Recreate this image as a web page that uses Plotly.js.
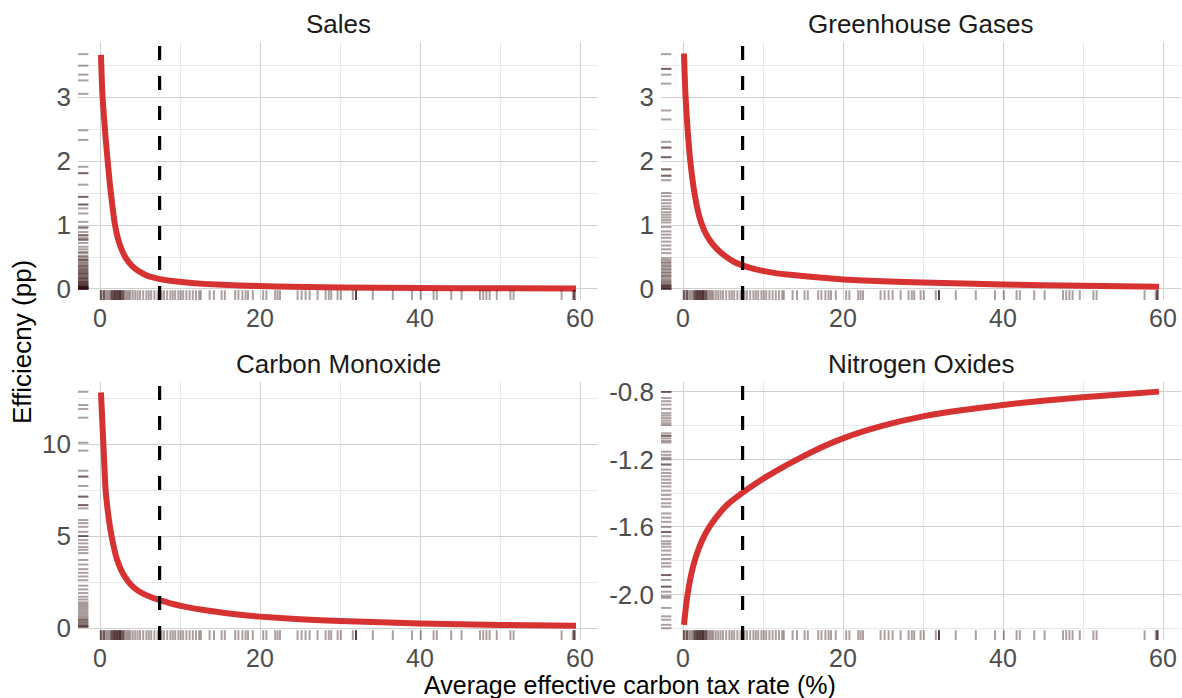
<!DOCTYPE html>
<html>
<head>
<meta charset="utf-8">
<script src="https://cdn.plot.ly/plotly-3.0.1.min.js"></script>
<style>html,body{margin:0;padding:0;background:#fff;}#chart{width:1182px;height:698px;}</style>
</head>
<body>
<div id="chart"></div>
<script>
// ---------- data ----------
const panelTitles = ["Sales", "Greenhouse Gases", "Carbon Monoxide", "Nitrogen Oxides"];
const xTitle = "Average effective carbon tax rate (%)";
const yTitle = "Efficiecny (pp)";

const xTicks = [0, 20, 40, 60];
const xTickText = ["0", "20", "40", "60"];
const xMinorTicks = [10, 30, 50];

const salesX = [0.12, 0.3, 0.6, 0.9, 1.2, 1.5, 1.8, 2.2, 2.7, 3.3, 4.0, 4.8, 5.7, 6.6, 7.5, 9, 10.5, 13, 17.5, 22, 30, 40, 50, 59.5];
const salesY = [3.66, 3.05, 2.52, 2.08, 1.68, 1.35, 1.06, 0.81, 0.62, 0.47, 0.36, 0.28, 0.22, 0.18, 0.155, 0.125, 0.105, 0.08, 0.055, 0.04, 0.025, 0.016, 0.011, 0.008];

const ghgX = [0.12, 0.3, 0.6, 1.0, 1.5, 2.0, 2.6, 3.3, 4.2, 5.2, 6.3, 7.45, 9, 11, 13, 16, 20, 25, 30, 40, 50, 59.5];
const ghgY = [3.68, 3.05, 2.45, 1.90, 1.45, 1.15, 0.93, 0.77, 0.63, 0.52, 0.43, 0.37, 0.31, 0.26, 0.225, 0.19, 0.15, 0.12, 0.10, 0.07, 0.05, 0.035];

const coX = [0.12, 0.42, 0.71, 1.12, 1.46, 2.08, 2.6, 3.1, 3.8, 4.6, 5.5, 6.5, 7.5, 9, 10.4, 13, 17.5, 20, 25, 30, 40, 50, 59.5];
const coY = [12.8, 10.0, 7.45, 5.87, 4.96, 3.79, 3.2, 2.79, 2.38, 2.07, 1.84, 1.66, 1.52, 1.32, 1.18, 0.98, 0.72, 0.62, 0.48, 0.38, 0.25, 0.17, 0.12];

const noxX = [0.12, 0.3, 0.54, 0.9, 1.29, 1.8, 2.54, 3.3, 4.2, 5.5, 7.45, 9, 10.5, 12.5, 14.6, 17, 20, 25, 30, 35, 40, 45, 50, 55, 59.5];
const noxY = [-2.18, -2.10, -2.01, -1.91, -1.83, -1.75, -1.665, -1.60, -1.54, -1.47, -1.397, -1.345, -1.30, -1.245, -1.192, -1.135, -1.075, -1.0, -0.945, -0.907, -0.877, -0.852, -0.832, -0.813, -0.798];

// average tax rate (dashed reference line)
const avgTaxRate = 7.45;

// observed tax rates (rug along x)
const rugX = [0.1,0.1,0.3,0.5,0.5,0.7,0.9,1.1,1.3,1.4,1.5,1.6,1.7,1.8,1.8,1.9,2.0,2.1,2.2,2.2,2.3,2.4,2.5,2.5,2.6,2.7,2.8,2.9,3.0,3.2,3.4,3.6,3.8,4.1,4.4,4.7,5.0,5.4,5.8,6.1,6.4,6.8,7.2,7.7,8.0,8.4,8.8,9.1,9.4,9.8,10.1,10.4,10.8,11.2,11.6,12.0,12.4,12.6,
  13.7,14.25,15.2,15.6,16.9,17.3,17.8,18.2,18.5,19.1,20.4,20.8,21.9,22.2,22.5,24.7,25.2,25.7,26.2,27.2,28.2,28.6,28.9,29.7,30.1,31.6,32.0,32.0,32.0,34.1,36.6,39.0,40.1,41.7,42.1,43.9,45.2,47.5,47.9,48.3,48.7,49.6,51.3,51.7,57.7,59.1,59.3,59.3,59.3];

// efficiency values (rug along y), per panel
const rugYSales = [3.67,3.49,3.35,3.26,3.05,2.48,2.33,1.91,1.81,1.81,1.63,1.44,1.44,1.32,1.32,1.26,1.18,1.05,0.97,0.95,0.89,0.84,0.84,0.80,0.77,0.77,0.72,0.66,0.62,0.58,0.56,0.52,0.50,0.47,0.45,0.45,0.42,0.40,0.38,0.36,0.35,0.33,0.31,0.30,0.28,0.27,0.25,0.24,0.23,0.21,0.20,0.18,0.17,0.16,0.15,0.13,0.12,0.11,0.10,0.09,0.08,0.07,0.06,0.05,0.04,0.04,0.03,0.03,0.02,0.02,0.01,0.01,0.0,0.0,0.0];
const rugYGhg = [3.67,3.44,3.44,3.35,3.21,2.79,2.65,2.30,2.21,2.21,2.06,2.06,1.87,1.87,1.77,1.77,1.70,1.50,1.45,1.39,1.34,1.29,1.25,1.20,1.16,1.12,1.08,1.04,0.97,0.90,0.85,0.80,0.74,0.68,0.62,0.56,0.48,0.45,0.42,0.40,0.37,0.35,0.32,0.30,0.27,0.25,0.22,0.20,0.18,0.15,0.13,0.11,0.09,0.07,0.06,0.05,0.04,0.03,0.02,0.01,0.0,0.0];
const rugYCo = [12.84,12.12,11.9,11.43,10.07,9.64,8.55,8.23,8.23,7.72,7.14,7.14,6.68,6.68,6.5,5.87,5.7,5.5,5.23,5.0,5.0,4.78,4.6,4.4,4.25,4.07,3.7,3.45,3.2,3.0,2.8,2.6,2.3,2.1,1.9,1.7,1.55,1.4,1.3,1.2,1.1,1.0,0.9,0.8,0.7,0.6,0.5,0.45,0.4,0.33,0.27,0.2,0.15,0.1,0.07,0.07];
const rugYNox = [-0.80,-0.80,-0.836,-0.855,-0.875,-0.90,-0.926,-0.94,-0.955,-0.97,-0.985,-0.996,-1.045,-1.06,-1.06,-1.075,-1.09,-1.10,-1.154,-1.173,-1.19,-1.20,-1.23,-1.23,-1.26,-1.28,-1.30,-1.32,-1.34,-1.36,-1.385,-1.41,-1.435,-1.46,-1.48,-1.52,-1.545,-1.57,-1.60,-1.63,-1.63,-1.655,-1.685,-1.70,-1.717,-1.74,-1.765,-1.79,-1.815,-1.835,-1.885,-1.885,-1.914,-1.954,-1.954,-1.984,-2.01,-2.02,-2.08,-2.13,-2.15,-2.18,-2.2];

// y-axis ticks per panel
const yTicksAB = [0, 1, 2, 3];
const yTickTextAB = ["0", "1", "2", "3"];
const yMinorAB = [0.5, 1.5, 2.5, 3.5];
const yTicksC = [0, 5, 10];
const yTickTextC = ["0", "5", "10"];
const yMinorC = [2.5, 7.5, 12.5];
const yTicksD = [-2.0, -1.6, -1.2, -0.8];
const yTickTextD = ["-2.0", "-1.6", "-1.2", "-0.8"];
const yMinorD = [-2.2, -1.8, -1.4, -1.0];

// ---------- styling ----------
const W = 1182, H = 698;
const FONT = "Liberation Sans, Arial, Helvetica, sans-serif";
const RED = "#d73232";
const RUG = "rgba(40,6,6,0.38)";
const MAJOR = "#d0d0d0";
const MINOR = "#e9e9e9";

// panel boxes in pixels: [left, right, top, bottom]
const boxes = [[78, 598, 42, 300], [661, 1181, 42, 300], [78, 598, 382, 640], [661, 1181, 382, 640]];
const yRanges = [[-0.172, 3.86], [-0.172, 3.86], [-0.65, 13.37], [-2.270, -0.741]];
const xRange = [-2.75, 62.25];

const curvesX = [salesX, ghgX, coX, noxX];
const curvesY = [salesY, ghgY, coY, noxY];
const rugYs = [rugYSales, rugYGhg, rugYCo, rugYNox];
const yTickSets = [[yTicksAB, yTickTextAB, yMinorAB], [yTicksAB, yTickTextAB, yMinorAB], [yTicksC, yTickTextC, yMinorC], [yTicksD, yTickTextD, yMinorD]];

const data = [];
const layout = {
  width: W, height: H,
  margin: {l: 0, r: 0, t: 0, b: 0},
  paper_bgcolor: "#ffffff", plot_bgcolor: "#ffffff",
  showlegend: false,
  font: {family: FONT, color: "#1a1a1a"},
  shapes: [],
  annotations: []
};

for (let i = 0; i < 4; i++) {
  const n = i + 1;
  const xa = "x" + (n === 1 ? "" : n), ya = "y" + (n === 1 ? "" : n);
  const xk = "xaxis" + (n === 1 ? "" : n), yk = "yaxis" + (n === 1 ? "" : n);
  const b = boxes[i];
  layout[xk] = {
    domain: [b[0] / W, b[1] / W], anchor: ya, range: xRange,
    tickmode: "array", tickvals: xTicks, ticktext: xTickText,
    showgrid: true, gridcolor: MAJOR, gridwidth: 1,
    minor: {tickmode: "array", tickvals: xMinorTicks, showgrid: true, gridcolor: MINOR, gridwidth: 1, ticks: ""},
    zeroline: false, showline: false, ticks: "",
    tickfont: {family: FONT, size: 25, color: "#4d4d4d"},
    ticklabelstandoff: 1, automargin: false, fixedrange: true
  };
  const ts = yTickSets[i];
  layout[yk] = {
    domain: [(H - b[3]) / H, (H - b[2]) / H], anchor: xa, range: yRanges[i],
    tickmode: "array", tickvals: ts[0], ticktext: ts[1],
    showgrid: true, gridcolor: MAJOR, gridwidth: 1,
    minor: {tickmode: "array", tickvals: ts[2], showgrid: true, gridcolor: MINOR, gridwidth: 1, ticks: ""},
    zeroline: false, showline: false, ticks: "",
    tickfont: {family: FONT, size: 26, color: "#4d4d4d"},
    ticklabelstandoff: 6, automargin: false, fixedrange: true
  };
  data.push({
    type: "scatter", mode: "lines", x: curvesX[i], y: curvesY[i],
    xaxis: xa, yaxis: ya,
    line: {color: RED, width: 6, shape: "spline", smoothing: 0.6},
    hoverinfo: "skip"
  });
  // rug along x
  rugX.forEach(v => layout.shapes.push({
    type: "line", xref: xa, yref: ya + " domain", x0: v, x1: v, y0: 0, y1: 0.038,
    line: {color: RUG, width: 2}
  }));
  // rug along y
  rugYs[i].forEach(v => layout.shapes.push({
    type: "line", xref: xa + " domain", yref: ya, x0: 0, x1: 0.02, y0: v, y1: v,
    line: {color: RUG, width: 2}
  }));
  // dashed average line
  layout.shapes.push({
    type: "line", xref: xa, yref: ya + " domain", x0: avgTaxRate, x1: avgTaxRate, y0: 0, y1: 1,
    line: {color: "#000000", width: 3.2, dash: "14px,16px"}, layer: "above"
  });
  // panel title
  layout.annotations.push({
    text: panelTitles[i], xref: "paper", yref: "paper",
    x: (b[0] + b[1]) / 2 / W, y: (H - (b[2] - 18)) / H,
    xanchor: "center", yanchor: "middle", showarrow: false,
    font: {family: FONT, size: 26, color: "#1a1a1a"}
  });
}

layout.annotations.push({
  text: xTitle, xref: "paper", yref: "paper", x: 630 / W, y: -0.004,
  xanchor: "center", yanchor: "bottom", showarrow: false,
  font: {family: FONT, size: 25, color: "#000000"}
});
layout.annotations.push({
  text: yTitle, xref: "paper", yref: "paper", x: 22 / W, y: (H - 342) / H,
  xanchor: "center", yanchor: "middle", textangle: -90, showarrow: false,
  font: {family: FONT, size: 26, color: "#000000"}
});

Plotly.newPlot("chart", data, layout, {displayModeBar: false, staticPlot: true});
</script>
</body>
</html>
